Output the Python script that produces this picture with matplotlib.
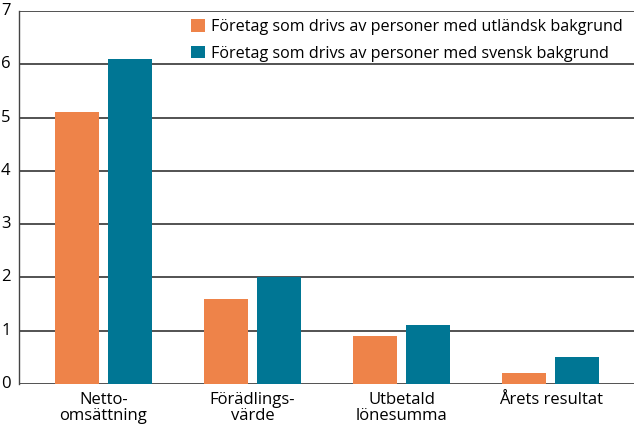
import numpy as np
import matplotlib
matplotlib.use("Agg")
import matplotlib.pyplot as plt

# Data
categories = ["Netto-\nomsättning", "Förädlings-\nvärde", "Utbetald\nlönesumma", "Årets resultat"]
utlandsk = [5.1, 1.6, 0.9, 0.2]
svensk = [6.1, 2.0, 1.1, 0.5]
series_labels = ["Företag som drivs av personer med utländsk bakgrund",
                 "Företag som drivs av personer med svensk bakgrund"]
yticks = [0, 1, 2, 3, 4, 5, 6, 7]

ORANGE = "#EE8349"
TEAL = "#007694"

plt.rcParams["font.family"] = ["Open Sans", "DejaVu Sans"]

fig = plt.figure(figsize=(6.34, 4.30), dpi=100)
ax = fig.add_axes([19 / 634, 1 - 384 / 430, 615 / 634, 373 / 430])

x = np.arange(len(categories))
w = 0.295
off = 0.178
ax.bar(x - off, utlandsk, w, color=ORANGE, label=series_labels[0], zorder=3)
ax.bar(x + off, svensk, w, color=TEAL, label=series_labels[1], zorder=3)

ax.set_ylim(0, 7)
ax.set_xlim(-0.567, 3.56)
ax.set_yticks(yticks)
ax.set_xticks(x)
ax.set_xticklabels(categories, fontsize=12, linespacing=1.0)
ax.tick_params(axis="y", labelsize=12, length=0, pad=6)
ax.tick_params(axis="x", length=0, pad=6)
for t in ax.get_yticklabels():
    t.set_verticalalignment("center")

# horizontal grid lines at every unit
for v in yticks:
    ax.axhline(v, color="#444444", lw=1.3, zorder=1)

for s in ["top", "right", "bottom"]:
    ax.spines[s].set_visible(False)
ax.spines["left"].set_color("#444444")
ax.spines["left"].set_linewidth(1.0)

ax.legend(loc="upper right", bbox_to_anchor=(631 / 634, 1 - 11 / 430),
          bbox_transform=fig.transFigure, frameon=False, borderpad=0,
          fontsize=11.6, handlelength=0.85, handleheight=0.85, handletextpad=0.4,
          labelspacing=0.65)

fig.savefig("out.png", dpi=100)
